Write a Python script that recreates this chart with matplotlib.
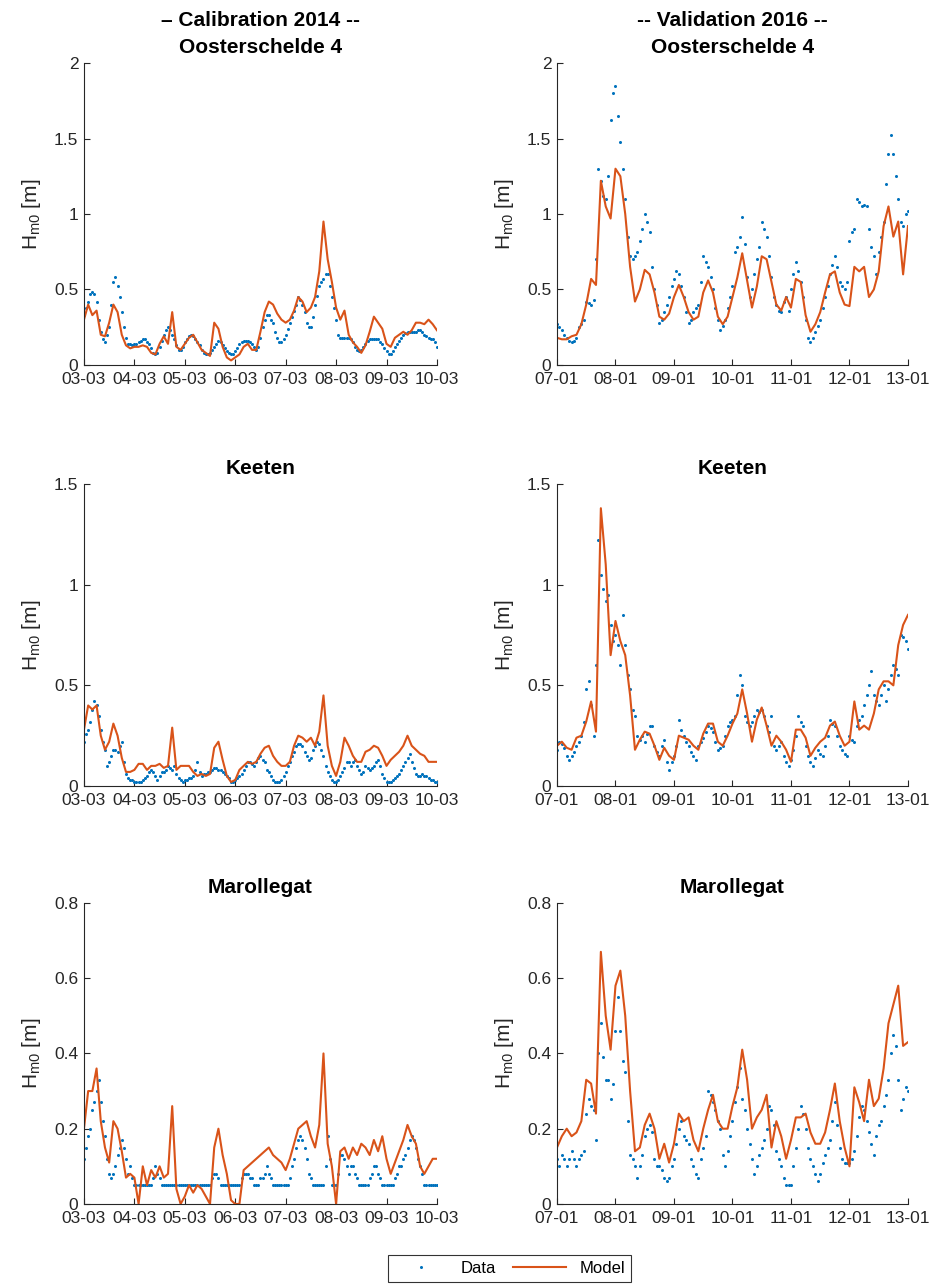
import numpy as np
import pandas as pd
import matplotlib
matplotlib.use('Agg')
import matplotlib.pyplot as plt
import matplotlib.dates as mdates
from matplotlib.ticker import FuncFormatter, MultipleLocator

plt.rcParams['font.family'] = ['Liberation Sans', 'DejaVu Sans']
plt.rcParams['mathtext.default'] = 'regular'

# time axes: data hourly, model 2-hourly
td_cal = pd.date_range('2014-03-03', '2014-03-10', freq='1h')   # 169
td_val = pd.date_range('2016-01-07', '2016-01-13', freq='1h')   # 145
tm_cal = pd.date_range('2014-03-03', '2014-03-10', freq='2h')   # 85
tm_val = pd.date_range('2016-01-07', '2016-01-13', freq='2h')   # 73

# ---- Oosterschelde 4 ----
os_cal_data = [0.33, 0.38, 0.42, 0.47, 0.48, 0.47, 0.42, 0.30, 0.22, 0.17, 0.15, 0.20,
               0.25, 0.40, 0.55, 0.58, 0.52, 0.45, 0.35, 0.25, 0.18, 0.14, 0.14, 0.13,
               0.14, 0.14, 0.15, 0.16, 0.17, 0.17, 0.15, 0.14, 0.11, 0.08, 0.07, 0.08,
               0.12, 0.16, 0.20, 0.23, 0.25, 0.23, 0.20, 0.17, 0.13, 0.10, 0.10, 0.12,
               0.15, 0.17, 0.19, 0.20, 0.19, 0.17, 0.15, 0.13, 0.10, 0.08, 0.07, 0.07,
               0.08, 0.10, 0.12, 0.14, 0.16, 0.15, 0.13, 0.11, 0.09, 0.08, 0.07, 0.07,
               0.09, 0.11, 0.14, 0.15, 0.16, 0.16, 0.16, 0.15, 0.14, 0.12, 0.10, 0.12,
               0.18, 0.25, 0.30, 0.33, 0.33, 0.30, 0.28, 0.22, 0.18, 0.15, 0.15, 0.17,
               0.20, 0.24, 0.28, 0.32, 0.36, 0.40, 0.45, 0.43, 0.40, 0.35, 0.28, 0.25,
               0.25, 0.32, 0.40, 0.46, 0.52, 0.55, 0.57, 0.60, 0.60, 0.52, 0.45, 0.38,
               0.30, 0.20, 0.18, 0.18, 0.18, 0.18, 0.18, 0.17, 0.15, 0.12, 0.10, 0.09,
               0.10, 0.12, 0.14, 0.16, 0.17, 0.17, 0.17, 0.17, 0.17, 0.15, 0.14, 0.11,
               0.09, 0.07, 0.07, 0.09, 0.12, 0.14, 0.16, 0.18, 0.20, 0.21, 0.22, 0.22,
               0.22, 0.22, 0.22, 0.23, 0.23, 0.22, 0.20, 0.19, 0.18, 0.17, 0.17, 0.15, 0.12]
os_cal_model = [0.30, 0.40, 0.33, 0.36, 0.20, 0.19, 0.28, 0.40, 0.35, 0.20, 0.13, 0.11,
                0.12, 0.12, 0.13, 0.12, 0.08, 0.07, 0.14, 0.19, 0.14, 0.35, 0.12, 0.10,
                0.14, 0.18, 0.20, 0.15, 0.10, 0.08, 0.06, 0.28, 0.24, 0.12, 0.05, 0.03,
                0.05, 0.07, 0.12, 0.14, 0.10, 0.10, 0.22, 0.35, 0.42, 0.40, 0.34, 0.30,
                0.28, 0.30, 0.36, 0.45, 0.42, 0.35, 0.38, 0.45, 0.62, 0.95, 0.70, 0.55,
                0.38, 0.30, 0.36, 0.20, 0.15, 0.12, 0.08, 0.13, 0.22, 0.32, 0.28, 0.24,
                0.14, 0.12, 0.18, 0.20, 0.22, 0.20, 0.23, 0.28, 0.28, 0.27, 0.30, 0.27, 0.23]
os_val_data = [0.27, 0.25, 0.23, 0.20, 0.18, 0.16, 0.15, 0.16, 0.18, 0.25, 0.27, 0.30,
               0.42, 0.41, 0.40, 0.43, 0.70, 1.30, 1.22, 1.12, 1.10, 1.25, 1.62, 1.80,
               1.85, 1.65, 1.48, 1.30, 1.10, 0.85, 0.72, 0.70, 0.72, 0.75, 0.82, 0.90,
               1.00, 0.95, 0.88, 0.65, 0.50, 0.40, 0.28, 0.30, 0.35, 0.40, 0.45, 0.52,
               0.57, 0.62, 0.60, 0.52, 0.45, 0.35, 0.28, 0.30, 0.35, 0.38, 0.40, 0.55,
               0.72, 0.68, 0.65, 0.58, 0.50, 0.38, 0.30, 0.23, 0.26, 0.30, 0.38, 0.45,
               0.52, 0.75, 0.78, 0.85, 0.98, 0.80, 0.58, 0.45, 0.50, 0.60, 0.70, 0.78,
               0.95, 0.90, 0.85, 0.72, 0.58, 0.45, 0.40, 0.36, 0.35, 0.42, 0.45, 0.36,
               0.50, 0.60, 0.68, 0.62, 0.55, 0.45, 0.30, 0.18, 0.15, 0.18, 0.22, 0.26,
               0.30, 0.38, 0.45, 0.52, 0.60, 0.66, 0.72, 0.65, 0.55, 0.52, 0.50, 0.55,
               0.82, 0.88, 0.90, 1.10, 1.08, 1.05, 1.06, 1.05, 0.90, 0.78, 0.72, 0.60,
               0.75, 0.85, 0.95, 1.20, 1.40, 1.52, 1.40, 1.25, 1.10, 0.95, 0.92, 1.00, 1.02]
os_val_model = [0.18, 0.17, 0.17, 0.19, 0.20, 0.27, 0.40, 0.57, 0.53, 1.22, 1.05, 0.97,
                1.30, 1.25, 1.00, 0.65, 0.42, 0.50, 0.63, 0.60, 0.48, 0.32, 0.30, 0.34,
                0.45, 0.53, 0.45, 0.35, 0.30, 0.32, 0.48, 0.56, 0.48, 0.32, 0.27, 0.32,
                0.45, 0.58, 0.74, 0.56, 0.38, 0.52, 0.72, 0.70, 0.55, 0.40, 0.36, 0.45,
                0.38, 0.57, 0.55, 0.33, 0.22, 0.27, 0.35, 0.48, 0.60, 0.62, 0.48, 0.40,
                0.39, 0.65, 0.62, 0.65, 0.45, 0.50, 0.62, 0.92, 1.05, 0.85, 0.95, 0.60, 0.92]

# ---- Keeten ----
ke_cal_data = [0.22, 0.26, 0.28, 0.32, 0.38, 0.42, 0.40, 0.35, 0.28, 0.22, 0.18, 0.10,
               0.12, 0.15, 0.18, 0.18, 0.17, 0.20, 0.22, 0.12, 0.06, 0.04, 0.03, 0.03,
               0.02, 0.02, 0.02, 0.02, 0.03, 0.04, 0.05, 0.07, 0.08, 0.07, 0.05, 0.03,
               0.05, 0.07, 0.07, 0.08, 0.10, 0.09, 0.08, 0.10, 0.06, 0.04, 0.03, 0.02,
               0.03, 0.03, 0.04, 0.04, 0.05, 0.08, 0.12, 0.07, 0.05, 0.06, 0.06, 0.07,
               0.07, 0.08, 0.09, 0.09, 0.08, 0.08, 0.07, 0.06, 0.05, 0.04, 0.02, 0.02,
               0.03, 0.04, 0.05, 0.06, 0.08, 0.10, 0.12, 0.12, 0.11, 0.10, 0.12, 0.14,
               0.15, 0.13, 0.12, 0.08, 0.07, 0.05, 0.03, 0.02, 0.02, 0.02, 0.03, 0.05,
               0.07, 0.10, 0.12, 0.15, 0.17, 0.20, 0.21, 0.21, 0.20, 0.17, 0.15, 0.13,
               0.14, 0.18, 0.20, 0.22, 0.21, 0.18, 0.15, 0.10, 0.07, 0.05, 0.03, 0.02,
               0.02, 0.03, 0.05, 0.07, 0.09, 0.12, 0.12, 0.10, 0.12, 0.13, 0.10, 0.08,
               0.06, 0.07, 0.10, 0.09, 0.08, 0.09, 0.10, 0.12, 0.13, 0.10, 0.06, 0.04,
               0.02, 0.02, 0.02, 0.03, 0.04, 0.05, 0.06, 0.08, 0.10, 0.12, 0.14, 0.16,
               0.12, 0.09, 0.06, 0.05, 0.05, 0.06, 0.05, 0.05, 0.04, 0.03, 0.03, 0.02, 0.02]
ke_cal_model = [0.28, 0.40, 0.38, 0.40, 0.25, 0.18, 0.22, 0.31, 0.25, 0.14, 0.07, 0.07,
                0.08, 0.11, 0.11, 0.08, 0.10, 0.10, 0.11, 0.09, 0.10, 0.29, 0.08, 0.10,
                0.10, 0.10, 0.07, 0.05, 0.06, 0.05, 0.06, 0.19, 0.22, 0.13, 0.05, 0.02,
                0.03, 0.08, 0.10, 0.12, 0.11, 0.12, 0.16, 0.19, 0.20, 0.15, 0.12, 0.10,
                0.10, 0.12, 0.20, 0.25, 0.24, 0.22, 0.24, 0.20, 0.27, 0.45, 0.20, 0.10,
                0.05, 0.12, 0.24, 0.20, 0.15, 0.12, 0.12, 0.17, 0.18, 0.20, 0.19, 0.15,
                0.10, 0.13, 0.15, 0.17, 0.20, 0.25, 0.20, 0.18, 0.16, 0.15, 0.12, 0.12, 0.12]
ke_val_data = [0.18, 0.22, 0.21, 0.19, 0.15, 0.13, 0.15, 0.17, 0.20, 0.22, 0.25, 0.32,
               0.48, 0.52, 0.40, 0.25, 0.60, 1.22, 1.05, 0.98, 0.92, 0.95, 0.80, 0.72,
               0.75, 0.70, 0.60, 0.85, 0.70, 0.55, 0.48, 0.38, 0.35, 0.25, 0.23, 0.25,
               0.22, 0.26, 0.30, 0.30, 0.20, 0.17, 0.15, 0.20, 0.23, 0.12, 0.08, 0.12,
               0.15, 0.20, 0.33, 0.28, 0.25, 0.22, 0.20, 0.17, 0.15, 0.13, 0.20, 0.22,
               0.24, 0.27, 0.30, 0.29, 0.27, 0.22, 0.18, 0.19, 0.20, 0.25, 0.30, 0.32,
               0.33, 0.35, 0.45, 0.55, 0.50, 0.35, 0.32, 0.30, 0.32, 0.35, 0.38, 0.37,
               0.38, 0.35, 0.30, 0.27, 0.35, 0.20, 0.18, 0.20, 0.22, 0.15, 0.12, 0.10,
               0.13, 0.18, 0.25, 0.35, 0.32, 0.30, 0.20, 0.15, 0.12, 0.10, 0.14, 0.18,
               0.16, 0.15, 0.20, 0.25, 0.33, 0.31, 0.30, 0.25, 0.20, 0.18, 0.16, 0.15,
               0.25, 0.23, 0.22, 0.30, 0.33, 0.35, 0.40, 0.45, 0.50, 0.57, 0.45, 0.42,
               0.40, 0.45, 0.50, 0.42, 0.48, 0.55, 0.60, 0.58, 0.55, 0.75, 0.74, 0.72, 0.68]
ke_val_model = [0.20, 0.22, 0.19, 0.18, 0.24, 0.25, 0.32, 0.42, 0.27, 1.38, 1.10, 0.65,
                0.82, 0.72, 0.65, 0.45, 0.18, 0.23, 0.27, 0.26, 0.20, 0.13, 0.19, 0.15,
                0.13, 0.25, 0.24, 0.23, 0.20, 0.18, 0.26, 0.31, 0.31, 0.22, 0.20, 0.25,
                0.31, 0.36, 0.48, 0.36, 0.22, 0.33, 0.39, 0.30, 0.20, 0.25, 0.22, 0.18,
                0.12, 0.28, 0.28, 0.24, 0.15, 0.19, 0.22, 0.24, 0.30, 0.32, 0.25, 0.20,
                0.22, 0.42, 0.28, 0.30, 0.28, 0.36, 0.48, 0.52, 0.52, 0.50, 0.70, 0.80, 0.85]

# ---- Marollegat ----
ma_cal_data = [0.12, 0.15, 0.18, 0.20, 0.25, 0.27, 0.30, 0.33, 0.27, 0.22, 0.18, 0.12,
               0.08, 0.07, 0.08, 0.10, 0.13, 0.15, 0.17, 0.15, 0.12, 0.08, 0.10, 0.07,
               0.05, 0.05, 0.05, 0.05, 0.05, 0.05, 0.05, 0.05, 0.05, 0.07, 0.10, 0.08,
               0.07, 0.05, 0.05, 0.05, 0.05, 0.05, 0.05, 0.05, 0.05, 0.05, 0.05, 0.05,
               0.05, 0.05, 0.05, 0.05, 0.05, 0.05, 0.05, 0.05, 0.05, 0.05, 0.05, 0.05,
               0.05, 0.07, 0.08, 0.08, 0.07, 0.05, 0.05, 0.05, 0.05, 0.05, 0.05, 0.05,
               0.05, 0.05, 0.05, 0.07, 0.08, 0.08, 0.08, 0.07, 0.07, 0.05, 0.05, 0.05,
               0.07, 0.07, 0.08, 0.10, 0.08, 0.07, 0.05, 0.05, 0.05, 0.05, 0.05, 0.05,
               0.05, 0.05, 0.07, 0.10, 0.12, 0.15, 0.17, 0.18, 0.17, 0.15, 0.12, 0.08,
               0.07, 0.05, 0.05, 0.05, 0.05, 0.05, 0.05, 0.10, 0.18, 0.12, 0.05, 0.05,
               0.05, 0.08, 0.13, 0.13, 0.12, 0.10, 0.08, 0.10, 0.10, 0.08, 0.07, 0.05,
               0.05, 0.05, 0.05, 0.05, 0.07, 0.08, 0.10, 0.10, 0.08, 0.07, 0.05, 0.05,
               0.05, 0.05, 0.05, 0.05, 0.07, 0.08, 0.10, 0.10, 0.12, 0.13, 0.15, 0.17,
               0.18, 0.17, 0.15, 0.12, 0.10, 0.08, 0.05, 0.05, 0.05, 0.05, 0.05, 0.05, 0.05]
ma_cal_model = [0.20, 0.30, 0.30, 0.36, 0.22, 0.15, 0.11, 0.22, 0.20, 0.14, 0.07, 0.08,
                0.07, 0.00, 0.10, 0.05, 0.09, 0.07, 0.10, 0.07, 0.08, 0.26, 0.04, 0.00,
                0.02, 0.05, 0.03, 0.05, 0.04, 0.02, 0.00, 0.15, 0.20, 0.13, 0.08, 0.01,
                0.00, 0.00, 0.09, 0.10, 0.11, 0.12, 0.13, 0.14, 0.15, 0.13, 0.12, 0.11,
                0.09, 0.12, 0.16, 0.20, 0.21, 0.22, 0.18, 0.15, 0.21, 0.40, 0.16, 0.10,
                0.00, 0.14, 0.15, 0.12, 0.15, 0.13, 0.16, 0.15, 0.13, 0.17, 0.14, 0.18,
                0.12, 0.08, 0.11, 0.14, 0.17, 0.21, 0.18, 0.16, 0.10, 0.08, 0.10, 0.12, 0.12]
ma_val_data = [0.12, 0.10, 0.13, 0.12, 0.10, 0.12, 0.14, 0.12, 0.10, 0.12, 0.13, 0.14,
               0.24, 0.28, 0.26, 0.25, 0.17, 0.40, 0.48, 0.39, 0.33, 0.33, 0.28, 0.32,
               0.46, 0.55, 0.46, 0.38, 0.35, 0.22, 0.13, 0.12, 0.10, 0.07, 0.10, 0.13,
               0.18, 0.20, 0.21, 0.19, 0.12, 0.10, 0.10, 0.09, 0.07, 0.06, 0.07, 0.10,
               0.12, 0.16, 0.20, 0.22, 0.18, 0.17, 0.16, 0.12, 0.10, 0.08, 0.07, 0.12,
               0.15, 0.18, 0.30, 0.29, 0.27, 0.25, 0.22, 0.20, 0.13, 0.10, 0.14, 0.18,
               0.22, 0.27, 0.31, 0.36, 0.28, 0.25, 0.20, 0.16, 0.12, 0.08, 0.10, 0.13,
               0.15, 0.17, 0.20, 0.26, 0.25, 0.21, 0.14, 0.12, 0.10, 0.07, 0.05, 0.05,
               0.05, 0.10, 0.15, 0.20, 0.26, 0.24, 0.20, 0.15, 0.12, 0.10, 0.08, 0.06,
               0.08, 0.11, 0.13, 0.15, 0.17, 0.22, 0.27, 0.21, 0.15, 0.12, 0.11, 0.11,
               0.11, 0.12, 0.14, 0.18, 0.23, 0.26, 0.25, 0.22, 0.19, 0.16, 0.13, 0.18,
               0.21, 0.22, 0.26, 0.29, 0.33, 0.40, 0.45, 0.42, 0.33, 0.25, 0.28, 0.31, 0.30]
ma_val_model = [0.15, 0.18, 0.20, 0.18, 0.19, 0.22, 0.33, 0.32, 0.24, 0.67, 0.50, 0.41,
                0.58, 0.62, 0.50, 0.30, 0.14, 0.15, 0.21, 0.24, 0.20, 0.12, 0.16, 0.11,
                0.16, 0.24, 0.22, 0.23, 0.17, 0.14, 0.20, 0.25, 0.29, 0.22, 0.20, 0.20,
                0.26, 0.31, 0.41, 0.33, 0.20, 0.23, 0.25, 0.29, 0.15, 0.22, 0.18, 0.12,
                0.17, 0.23, 0.23, 0.24, 0.19, 0.16, 0.16, 0.19, 0.25, 0.32, 0.22, 0.15,
                0.10, 0.31, 0.27, 0.22, 0.33, 0.26, 0.28, 0.36, 0.48, 0.53, 0.58, 0.42, 0.43]

titles_left = ['\u2013 Calibration 2014 --\nOosterschelde 4', 'Keeten', 'Marollegat']
titles_right = ['-- Validation 2016 --\nOosterschelde 4', 'Keeten', 'Marollegat']
ymax = [2, 1.5, 0.8]
ystep = [0.5, 0.5, 0.2]

blue = '#0072BD'
orange = '#D95319'
axcol = '#262626'

fig = plt.figure(figsize=(9.35, 12.86), dpi=100)

lefts = [0.0898, 0.5957]
widths = [0.3775, 0.3754]
bottoms = [0.7162, 0.3888, 0.0638]
heights = [0.2348, 0.2348, 0.2341]

series = [
    [(td_cal, os_cal_data, tm_cal, os_cal_model), (td_val, os_val_data, tm_val, os_val_model)],
    [(td_cal, ke_cal_data, tm_cal, ke_cal_model), (td_val, ke_val_data, tm_val, ke_val_model)],
    [(td_cal, ma_cal_data, tm_cal, ma_cal_model), (td_val, ma_val_data, tm_val, ma_val_model)],
]

fmt = FuncFormatter(lambda v, p: '%g' % round(v, 3))

for r in range(3):
    for c in range(2):
        td, d, tm, m = series[r][c]
        ax = fig.add_axes([lefts[c], bottoms[r], widths[c], heights[r]])
        hd, = ax.plot(td, d, 'o', color=blue, ms=2.2, mew=0, label='Data')
        hm, = ax.plot(tm, m, '-', color=orange, lw=1.5, label='Model')
        ax.set_xlim(td[0], td[-1])
        ax.set_ylim(0, ymax[r])
        ax.yaxis.set_major_locator(MultipleLocator(ystep[r]))
        ax.yaxis.set_major_formatter(fmt)
        ax.xaxis.set_major_locator(mdates.DayLocator())
        ax.xaxis.set_major_formatter(mdates.DateFormatter('%d-%m'))
        for s in ['top', 'right']:
            ax.spines[s].set_visible(False)
        for s in ['left', 'bottom']:
            ax.spines[s].set_color(axcol)
            ax.spines[s].set_linewidth(0.8)
        ax.tick_params(direction='in', length=4, width=0.8, colors=axcol,
                       labelsize=12.5)
        ax.tick_params(axis='x', pad=5)
        ax.tick_params(axis='y', pad=4)
        ax.set_ylabel('H$_{m0}$ [m]', fontsize=15, color=axcol, labelpad=8)
        title = titles_left[r] if c == 0 else titles_right[r]
        ax.set_title(title, fontsize=15, fontweight='bold', pad=7, linespacing=1.55)

leg = fig.legend([hd, hm], ['Data', 'Model'], loc='center', ncol=2,
                 bbox_to_anchor=(0.545, 0.0135), fontsize=12, frameon=True,
                 fancybox=False, edgecolor='black', handlelength=3.2,
                 columnspacing=1.0, borderpad=0.35)
leg.get_frame().set_linewidth(0.8)

fig.savefig('out.png', dpi=100)
